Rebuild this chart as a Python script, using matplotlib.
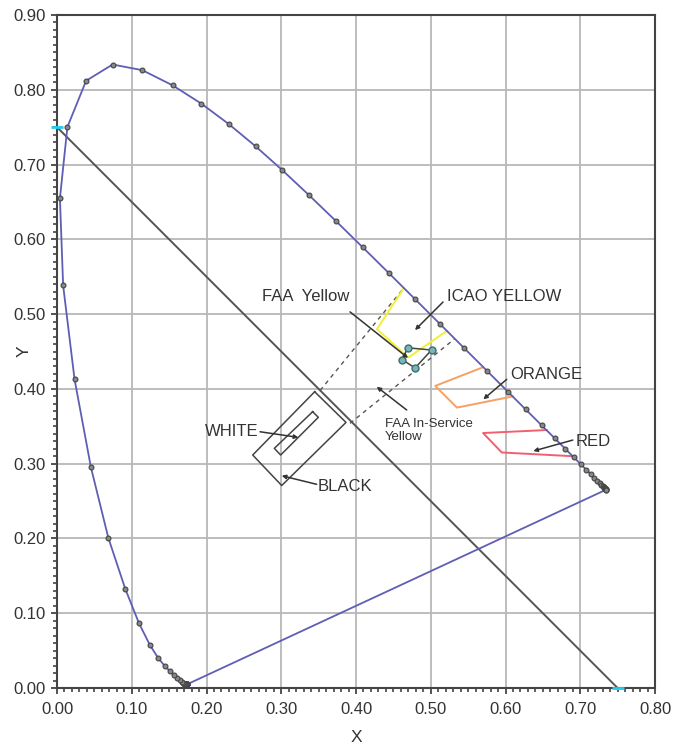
import matplotlib
matplotlib.use("Agg")
import matplotlib.pyplot as plt
from matplotlib.ticker import MultipleLocator, FormatStrFormatter

plt.rcParams['font.family'] = ['Liberation Sans', 'DejaVu Sans']

# CIE 1931 spectral locus (x, y) at 5 nm steps, 380..700 nm
locus_x = [0.1741, 0.1740, 0.1738, 0.1736, 0.1733, 0.1730, 0.1726, 0.1721, 0.1714, 0.1703,
           0.1689, 0.1669, 0.1644, 0.1611, 0.1566, 0.1510, 0.1440, 0.1355, 0.1241, 0.1096,
           0.0913, 0.0687, 0.0454, 0.0235, 0.0082, 0.0039, 0.0139, 0.0389, 0.0743, 0.1142,
           0.1547, 0.1929, 0.2296, 0.2658, 0.3016, 0.3373, 0.3731, 0.4087, 0.4441, 0.4788,
           0.5125, 0.5448, 0.5752, 0.6029, 0.6270, 0.6482, 0.6658, 0.6801, 0.6915, 0.7006,
           0.7079, 0.7140, 0.7190, 0.7230, 0.7260, 0.7283, 0.7300, 0.7311, 0.7320, 0.7327,
           0.7334, 0.7340, 0.7344, 0.7346, 0.7347]
locus_y = [0.0050, 0.0050, 0.0049, 0.0049, 0.0048, 0.0048, 0.0048, 0.0048, 0.0051, 0.0058,
           0.0069, 0.0086, 0.0109, 0.0138, 0.0177, 0.0227, 0.0297, 0.0399, 0.0578, 0.0868,
           0.1327, 0.2007, 0.2950, 0.4127, 0.5384, 0.6548, 0.7502, 0.8120, 0.8338, 0.8262,
           0.8059, 0.7816, 0.7543, 0.7243, 0.6923, 0.6589, 0.6245, 0.5896, 0.5547, 0.5202,
           0.4866, 0.4544, 0.4242, 0.3965, 0.3725, 0.3514, 0.3340, 0.3197, 0.3083, 0.2993,
           0.2920, 0.2859, 0.2809, 0.2770, 0.2740, 0.2717, 0.2700, 0.2689, 0.2680, 0.2673,
           0.2666, 0.2660, 0.2656, 0.2654, 0.2653]

# black diagonal reference line
diag_x = [0.0, 0.75]
diag_y = [0.75, 0.0]

# colour boundaries
yellow_x = [0.464, 0.428, 0.470, 0.5215]
yellow_y = [0.535, 0.480, 0.442, 0.4775]
orange_x = [0.570, 0.506, 0.535, 0.610]
orange_y = [0.429, 0.404, 0.375, 0.390]
red_x = [0.655, 0.570, 0.595, 0.690]
red_y = [0.345, 0.341, 0.315, 0.310]
black_box_x = [0.3447, 0.3866, 0.3006, 0.2618, 0.3447]
black_box_y = [0.3962, 0.3552, 0.2708, 0.3116, 0.3962]
white_box_x = [0.3420, 0.3496, 0.2992, 0.2907, 0.3420]
white_box_y = [0.3695, 0.3620, 0.3116, 0.3205, 0.3695]
faa_pts_x = [0.469, 0.501, 0.479, 0.462, 0.469]
faa_pts_y = [0.455, 0.452, 0.428, 0.439, 0.455]
dash1_x = [0.352, 0.464]
dash1_y = [0.398, 0.535]
dash2_x = [0.392, 0.532]
dash2_y = [0.354, 0.467]

# labels: text, text position, arrow start, arrow target
labels = ["FAA  Yellow", "ICAO YELLOW", "ORANGE", "RED", "WHITE", "BLACK"]
label_xy = [(0.274, 0.523), (0.522, 0.524), (0.606, 0.4186), (0.6943, 0.3303),
            (0.198, 0.3437), (0.349, 0.2701)]
arrow_from = [(0.392, 0.503), (0.5164, 0.5162), (0.6016, 0.4128), (0.690, 0.3316),
              (0.2716, 0.3427), (0.3474, 0.2724)]
arrow_to = [(0.4696, 0.4413), (0.4789, 0.4787), (0.5703, 0.3861), (0.6372, 0.3169),
            (0.3228, 0.3352), (0.3006, 0.2839)]
inservice_text = "FAA In-Service\nYellow"
inservice_xy = (0.4388, 0.3444)
inservice_from = (0.4678, 0.3718)
inservice_to = (0.4277, 0.4029)

fig = plt.figure(figsize=(6.73, 7.46), dpi=100)
ax = fig.add_axes([0.0847, 0.0777, 0.8886, 0.9022])
ax.set_xlim(0, 0.8)
ax.set_ylim(0, 0.9)

ax.xaxis.set_major_locator(MultipleLocator(0.1))
ax.yaxis.set_major_locator(MultipleLocator(0.1))
ax.xaxis.set_minor_locator(MultipleLocator(0.01))
ax.yaxis.set_minor_locator(MultipleLocator(0.01))
ax.xaxis.set_major_formatter(FormatStrFormatter('%.2f'))
ax.yaxis.set_major_formatter(FormatStrFormatter('%.2f'))
ax.grid(True, which='major', color='#b8b8b8', linewidth=1.3)
ax.set_axisbelow(True)
ax.tick_params(axis='x', which='major', pad=6)
ax.tick_params(axis='y', which='major', pad=4)
ax.tick_params(which='major', direction='out', length=4, width=1.3, color='#444444',
               labelsize=12, labelcolor='#333333')
ax.tick_params(which='minor', direction='out', length=3, width=1.2, color='#444444')
for s in ax.spines.values():
    s.set_color('#444444')
    s.set_linewidth(1.5)

ax.set_xlabel('X', fontsize=12.5, color='#333333')
ax.set_ylabel('Y', fontsize=12.5, color='#333333')
ax.xaxis.set_label_coords(0.5, -0.062)
ax.yaxis.set_label_coords(-0.042, 0.5)

# diagonal
ax.plot(diag_x, diag_y, color='#555555', linewidth=1.4, zorder=3)
ax.plot(diag_x, diag_y, linestyle='none', marker='_', markersize=8, markeredgewidth=2,
        color='#22ccee', zorder=6, clip_on=False)

# purple line
ax.plot([locus_x[0], locus_x[-1]], [locus_y[0], locus_y[-1]], color='#5e5eb4', linewidth=1.3, zorder=4)
# spectral locus
ax.plot(locus_x, locus_y, color='#5e5eb4', linewidth=1.3, zorder=4)
ax.plot(locus_x, locus_y, linestyle='none', marker='o', markersize=3.5,
        markerfacecolor='#888888', markeredgecolor='#444444', markeredgewidth=0.8, zorder=5)

# dashed lines
ax.plot(dash1_x, dash1_y, color='#555555', linestyle=(0, (3, 3)), linewidth=1.0, zorder=3)
ax.plot(dash2_x, dash2_y, color='#555555', linestyle=(0, (3, 3)), linewidth=1.0, zorder=3)

# colour regions
ax.plot(yellow_x, yellow_y, color='#f0f032', linewidth=1.4, zorder=3)
ax.plot(orange_x, orange_y, color='#f5a064', linewidth=1.4, zorder=3)
ax.plot(red_x, red_y, color='#f0606e', linewidth=1.4, zorder=3)

# white / black boxes
ax.plot(black_box_x, black_box_y, color='#444444', linewidth=1.1, zorder=3)
ax.plot(white_box_x, white_box_y, color='#444444', linewidth=1.1, zorder=3)

# FAA yellow points
ax.plot(faa_pts_x, faa_pts_y, color='#444444', linewidth=1.1, zorder=4)
ax.plot(faa_pts_x[:-1], faa_pts_y[:-1], linestyle='none', marker='o', markersize=5,
        markerfacecolor='#7ab4b4', markeredgecolor='#3c6e6e', markeredgewidth=1.0, zorder=5)

# annotations
for t, xy, a0, a1 in zip(labels, label_xy, arrow_from, arrow_to):
    ax.text(xy[0], xy[1], t, fontsize=12, color='#333333', ha='left', va='center', zorder=7)
    ax.annotate('', xy=a1, xytext=a0,
                arrowprops=dict(arrowstyle='-|>', color='#333333', lw=1.1,
                                mutation_scale=6, shrinkA=0, shrinkB=0), zorder=7)
ax.text(inservice_xy[0], inservice_xy[1], inservice_text, fontsize=9.5, color='#333333',
        ha='left', va='center', linespacing=1.1, zorder=7)
ax.annotate('', xy=inservice_to, xytext=inservice_from,
            arrowprops=dict(arrowstyle='-|>', color='#333333', lw=1.1,
                            mutation_scale=6, shrinkA=0, shrinkB=0), zorder=7)

fig.savefig('out.png', dpi=100)
